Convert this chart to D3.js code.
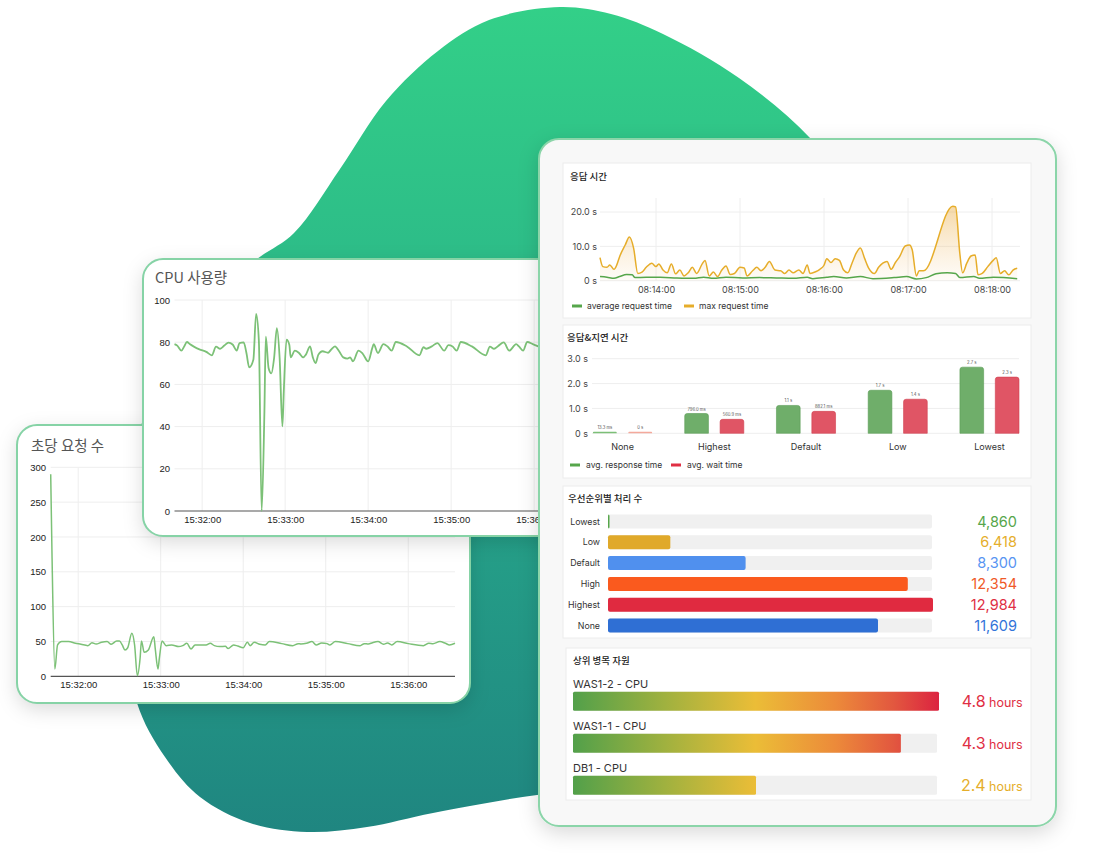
<!DOCTYPE html>
<html><head><meta charset="utf-8">
<script src="https://cdn.jsdelivr.net/npm/d3@7"></script>
<style>
html,body{margin:0;padding:0;background:#fff;}
svg{display:block;}
</style></head><body>
<svg id="c" width="1096" height="859"></svg>
<script>
// ---------------- DATA ----------------
// CPU 사용량 (seconds after 15:31:40, percent)
const cpuSeconds = [0,2,5,7,9,11,14,18,23,27,30,33,36,39,42,45,47,50,52,54,57,59,61,63,65,66,68,70,72,74,76,78,79,81,83,84,87,90,93,95,98,100,102,104,107,111,113,116,119,122,125,127,129,133,136,140,143,144,147,151,154,157,160,168,177,180,182,186,190,195,198,201,204,207,215,225,228,231,234,238,242,247,249,252,255,259,263];
const cpuValues  = [79.1,78.4,76.0,78.0,80.1,79.1,77.9,76.6,75.4,73.8,77.9,76.9,78.4,79.8,78.9,76.0,79.6,79.9,74.9,68.1,71.7,93.4,80.4,0,47.2,82.6,67.8,65.2,72.5,86.7,72.5,40.1,56.7,81.2,78.8,72.8,76.0,74.9,72.8,74.1,78.0,72.8,70.1,74.1,75.7,75.0,76.3,78.0,75.7,72.8,72.2,72.8,70.9,76.0,74.6,70.9,77.3,79.1,74.9,79.1,78.0,76.0,80.1,78.0,73.8,77.6,76.9,78.0,79.6,76.0,78.6,78.0,76.0,80.1,78.0,73.8,77.9,76.9,78.2,79.9,76.0,79.1,78.0,76.0,80.1,79.1,78.0];
const cpuTicks = [0,20,40,60,80,100];

// 초당 요청 수 (seconds after 15:31:40, requests/s)
const reqSeconds = [0,1,3,5,8,13,18,22,27,30,33,37,41,44,48,50,52,54,56,59,61,63,65,66,68,71,75,76,78,79,81,84,88,93,96,99,102,105,110,113,116,119,123,127,129,133,136,140,143,145,148,152,156,159,168,176,180,182,186,190,193,197,201,203,207,216,225,228,231,234,238,242,245,248,252,260,271,275,278,283,287,290,294];
const reqValues  = [290,169,10.5,45,49.8,49.8,47.4,46,44,48.3,46.4,48.8,49.8,46,50.7,50.7,45,37.8,41,61.7,45,1,25.8,50.7,34.4,37.8,56.9,40.2,10.5,25.8,50.7,44,45,42.6,44,47.4,39.2,45,45,45,47.4,44,42.6,43,40,45,43.5,41.1,48.8,44,48.8,46,45,49.8,46.9,44,46.9,46.4,47.4,49.8,45,47.8,46.9,45,49.8,46.9,44,46.9,46.4,48.3,49.8,46,47.8,45,49.8,46.9,44,47.4,46.9,49.8,47.4,45,47.4];
const reqTicks = [0,50,100,150,200,250,300];

// 응답 시간 (seconds after 08:13:20, seconds)
const maxSeconds = [0,2,5,7,10,12,14,18,21,24,27,30,33,37,40,42,45,48,51,54,57,60,63,66,69,73,75,78,81,84,87,90,93,96,100,103,105,109,112,115,118,121,125,129,132,135,138,142,145,148,150,154,157,160,162,165,168,171,174,177,180,183,186,189,192,196,199,202,205,208,211,214,218,221,223,226,228,231,252,254,257,259,262,265,268,270,273,277,281,283,286,289,292,295,298];
const maxValues  = [6.7,4.1,3.9,4.6,3.3,4.6,7.0,10.4,12.7,9.5,2.1,2.5,3.9,5.1,4.1,4.9,3.1,2.3,4.9,2.0,3.1,1.4,2.3,3.9,2.1,4.9,5.9,1.4,2.5,1.2,3.1,4.3,1.8,2.1,3.9,3.7,1.4,2.9,3.9,2.9,3.9,5.6,3.1,2.9,2.1,3.1,2.3,3.1,2.1,4.6,2.1,2.6,3.3,4.5,6.4,5.3,6.4,5.9,3.1,2.3,5.1,8.0,9.5,6.5,3.6,2.1,3.9,5.1,5.6,3.3,5.3,7.0,10.1,10.4,9.0,1.4,2.9,2.9,21.7,21.5,8.0,2.3,5.1,7.2,7.5,1.7,2.1,4.1,6.0,6.7,2.1,2.9,1.7,3.1,3.6];
const avgSeconds = [0,5,10,14,19,23,25,33,43,55,67,74,81,90,102,114,126,138,148,152,162,167,176,186,195,210,219,226,233,240,248,254,257,267,271,281,298];
const avgValues  = [1.2,1.0,0.7,1.2,1.8,1.7,0.9,1.0,1.0,0.8,0.7,1.0,0.7,1.0,0.8,0.9,0.8,0.7,1.0,0.6,1.0,1.2,0.8,1.2,0.6,0.9,1.2,0.5,0.9,2.0,2.3,2.1,0.9,1.2,0.7,1.0,0.6];
const respTicks = [0,10,20];
const respSeries = ["average request time","max request time"];

// 응답&지연 시간 (seconds)
const latencyCategories = ["None","Highest","Default","Low","Lowest"];
const latencySeries = ["avg. response time","avg. wait time"];
const avgResponseTime = [0.0133,0.796,1.12,1.73,2.66];
const avgWaitTime     = [0,0.5609,0.8821,1.37,2.26];
const latencyTicks = [0,1,2,3];

// 우선순위별 처리 수
const priorityLabels = ["Lowest","Low","Default","High","Highest","None"];
const priorityCounts = [4860,6418,8300,12354,12984,11609];
const priorityColors = ["#56a64b","#e0a92a","#5090ee","#fa5a1e","#e02a40","#2f6fd4"];
const priorityTextColors = ["#56a64b","#e5ae2b","#5794f2","#f05a28","#e02f44","#3274d9"];

// 상위 병목 자원 (hours)
const resourceLabels = ["WAS1-2 - CPU","WAS1-1 - CPU","DB1 - CPU"];
const resourceHours = [4.8,4.3,2.4];
const resourceTextColors = ["#e02f44","#e02f44","#e5ae2b"];

// ---------------- DRAWING ----------------
const svg = d3.select("#c");
const defs = svg.append("defs");
const LF = "'Liberation Sans',Arial,'Noto Sans CJK KR',sans-serif";
const IF = "Inter,'Noto Sans CJK KR',sans-serif";
const KF = "'Noto Sans CJK KR',sans-serif";

svg.append("rect").attr("width",1096).attr("height",859).attr("fill","#fff");

// gradients
function lin(id, attrs, stops){
  const g = defs.append("linearGradient").attr("id",id).attr("gradientUnits","userSpaceOnUse");
  Object.entries(attrs).forEach(([k,v])=>g.attr(k,v));
  stops.forEach(([o,c,op])=>g.append("stop").attr("offset",o).attr("stop-color",c).attr("stop-opacity",op==null?1:op));
}
lin("blobGrad",{x1:0,y1:0,x2:0,y2:840},[[0,"#33d088"],[0.3,"#2dbd88"],[0.62,"#25a088"],[1,"#1f8580"]]);
lin("maxFill",{x1:0,y1:205,x2:0,y2:281},[[0,"#e8a838",0.45],[1,"#f3c27a",0.05]]);
lin("hotGrad",{x1:573,y1:0,x2:938,y2:0},[[0,"#52a04a"],[0.25,"#9fb13f"],[0.5,"#ebbd37"],[0.72,"#ec8a3a"],[0.88,"#e2573f"],[1,"#dc2440"]]);

const sh = defs.append("filter").attr("id","shadow").attr("x","-20%").attr("y","-20%").attr("width","140%").attr("height","150%");
sh.append("feDropShadow").attr("dx",0).attr("dy",6).attr("stdDeviation",10).attr("flood-color","#000").attr("flood-opacity",0.15);

// blob (decorative background shape)
const blobOutline = [[560,7],[611,14],[663,34],[739,78],[811,139],[870,220],[905,350],[905,500],[870,640],[780,740],[640,785],[537,795],[433,813],[367,827],[307,832],[250,823],[200,797],[165,757],[137,703],[126,620],[130,520],[140,430],[165,370],[210,305],[253,262],[294,233],[340,169],[386,101],[438,51],[489,20]];
svg.append("path").attr("d", d3.line().curve(d3.curveCatmullRomClosed.alpha(0.5))(blobOutline)).attr("fill","url(#blobGrad)");

const parse = d3.timeParse("%H:%M:%S");
const fmtT = d3.timeFormat("%H:%M:%S");

// ---------- generic left-side time panel ----------
function leftPanel(p){
  const clipId = p.id+"Clip";
  defs.append("clipPath").attr("id",clipId).append("rect")
    .attr("x",p.box[0]).attr("y",p.box[1]).attr("width",p.box[2]).attr("height",p.box[3]).attr("rx",20);
  svg.append("rect").attr("x",p.box[0]).attr("y",p.box[1]).attr("width",p.box[2]).attr("height",p.box[3]).attr("rx",20)
    .attr("fill","#fff").attr("filter","url(#shadow)");
  const g = svg.append("g").attr("clip-path",`url(#${clipId})`);
  g.append("rect").attr("x",p.box[0]).attr("y",p.box[1]).attr("width",p.box[2]).attr("height",p.box[3]).attr("fill","#fff");
  const x = p.x, y = p.y;
  const x0 = x.range()[0];
  g.selectAll(null).data(p.yTicks.filter(d=>d>0)).join("line")
    .attr("x1",x0).attr("x2",p.gridRight).attr("y1",d=>y(d)).attr("y2",d=>y(d)).attr("stroke","#eeeeee");
  const xt = x.ticks(d3.timeMinute.every(1));
  g.selectAll(null).data(xt).join("line")
    .attr("x1",d=>x(d)).attr("x2",d=>x(d)).attr("y1",y(p.yTicks[p.yTicks.length-1])).attr("y2",y(0)).attr("stroke","#eeeeee");
  const ya = g.append("g").attr("transform",`translate(${p.labelX},0)`)
    .call(d3.axisLeft(y).tickValues(p.yTicks).tickSize(0).tickPadding(0));
  ya.select(".domain").remove();
  ya.selectAll("text").attr("font-family",LF).attr("font-size",9.5).attr("fill","#222");
  const xa = g.append("g").attr("transform",`translate(0,${y(0)})`)
    .call(d3.axisBottom(x).ticks(d3.timeMinute.every(1)).tickFormat(fmtT).tickSize(0).tickPadding(5));
  xa.select(".domain").attr("stroke","#555").attr("stroke-width",1.2).attr("d",`M${x0},0H${p.gridRight}`);
  xa.selectAll("text").attr("font-family",LF).attr("font-size",9.5).attr("fill","#222");
  const data = p.secs.map((s,i)=>({t:d3.timeSecond.offset(p.base,s), v:p.vals[i]}));
  g.append("path").datum(data)
    .attr("d", d3.line().x(d=>x(d.t)).y(d=>y(d.v)).curve(d3.curveMonotoneX))
    .attr("fill","none").attr("stroke","#7cc177").attr("stroke-width",p.lw).attr("stroke-linejoin","round");
  g.append("text").attr("x",p.title[1]).attr("y",p.title[2]).text(p.title[0])
    .attr("font-family",KF).attr("font-size",14.5).attr("fill","#555");
  svg.append("rect").attr("x",p.box[0]).attr("y",p.box[1]).attr("width",p.box[2]).attr("height",p.box[3]).attr("rx",20)
    .attr("fill","none").attr("stroke","#86d3a6").attr("stroke-width",2);
}

const reqBase = parse("15:31:40");
leftPanel({
  id:"req", box:[17,425,453,278],
  x: d3.scaleTime().domain([reqBase, d3.timeSecond.offset(reqBase,294)]).range([50.7,455]),
  y: d3.scaleLinear().domain([0,300]).range([676.3,467.3]),
  yTicks:reqTicks, labelX:46, gridRight:455, base:reqBase, secs:reqSeconds, vals:reqValues, lw:1.5,
  title:["초당 요청 수",31,451]
});

const cpuBase = parse("15:31:40");
leftPanel({
  id:"cpu", box:[143,259,430,277],
  x: d3.scaleTime().domain([cpuBase, d3.timeSecond.offset(cpuBase,270)]).range([174.5,548]),
  y: d3.scaleLinear().domain([0,100]).range([511,300]),
  yTicks:cpuTicks, labelX:170, gridRight:600, base:cpuBase, secs:cpuSeconds, vals:cpuValues, lw:1.8,
  title:["CPU 사용량",155,283]
});

// ---------- right dashboard panel ----------
svg.append("rect").attr("x",539).attr("y",139).attr("width",517).attr("height",687).attr("rx",20)
  .attr("fill","#f8f8f8").attr("stroke","#8bd5a9").attr("stroke-width",2).attr("filter","url(#shadow)");

const subPanels = [[563,163,468,155,"응답 시간",570,180],[563,325,468,153,"응답&지연 시간",567,341],[563,486,468,152,"우선순위별 처리 수",568,502],[566,648,465,152,"상위 병목 자원",573,664]];
subPanels.forEach(s=>{
  svg.append("rect").attr("x",s[0]).attr("y",s[1]).attr("width",s[2]).attr("height",s[3]).attr("fill","#fff").attr("stroke","#ececec");
  svg.append("text").attr("x",s[5]).attr("y",s[6]).text(s[4]).attr("font-family",KF).attr("font-size",9.5).attr("font-weight",500).attr("fill","#222");
});

// ---- 응답 시간 ----
(function(){
  const base = parse("08:13:20");
  const x = d3.scaleTime().domain([base, d3.timeSecond.offset(base,298)]).range([600,1017.2]);
  const y = d3.scaleLinear().domain([0,24]).range([280.7,198.3]);
  const g = svg.append("g");
  g.selectAll(null).data(respTicks).join("line").attr("x1",600).attr("x2",1020).attr("y1",d=>y(d)).attr("y2",d=>y(d)).attr("stroke","#eeeeee");
  g.selectAll(null).data(x.ticks(d3.timeMinute.every(1))).join("line").attr("x1",d=>x(d)).attr("x2",d=>x(d)).attr("y1",198).attr("y2",280.7).attr("stroke","#eeeeee");
  const ya = g.append("g").attr("transform","translate(597,0)").call(d3.axisLeft(y).tickValues(respTicks).tickSize(0).tickPadding(0).tickFormat(d=>d===0?"0 s":d.toFixed(1)+" s"));
  ya.select(".domain").remove();
  ya.selectAll("text").attr("font-family",IF).attr("font-size",9).attr("fill","#444");
  const xa = g.append("g").attr("transform",`translate(0,${y(0)})`).call(d3.axisBottom(x).ticks(d3.timeMinute.every(1)).tickFormat(fmtT).tickSize(0).tickPadding(6));
  xa.select(".domain").remove();
  xa.selectAll("text").attr("font-family",IF).attr("font-size",9).attr("fill","#444");
  const maxData = maxSeconds.map((s,i)=>({t:d3.timeSecond.offset(base,s),v:maxValues[i]}));
  const avgData = avgSeconds.map((s,i)=>({t:d3.timeSecond.offset(base,s),v:avgValues[i]}));
  g.append("path").datum(maxData).attr("d",d3.area().x(d=>x(d.t)).y0(y(0)).y1(d=>y(d.v)).curve(d3.curveMonotoneX)).attr("fill","url(#maxFill)");
  g.append("path").datum(maxData).attr("d",d3.line().x(d=>x(d.t)).y(d=>y(d.v)).curve(d3.curveMonotoneX)).attr("fill","none").attr("stroke","#e6ad2a").attr("stroke-width",1.5);
  g.append("path").datum(avgData).attr("d",d3.line().x(d=>x(d.t)).y(d=>y(d.v)).curve(d3.curveMonotoneX)).attr("fill","none").attr("stroke","#56a64b").attr("stroke-width",1.5);
  const lc = ["#56a64b","#e6ad2a"], lx = [572,684];
  respSeries.forEach((s,i)=>{
    g.append("line").attr("x1",lx[i]).attr("x2",lx[i]+10).attr("y1",306).attr("y2",306).attr("stroke",lc[i]).attr("stroke-width",3);
    g.append("text").attr("x",lx[i]+15).attr("y",309).text(s).attr("font-family",IF).attr("font-size",8.5).attr("fill","#333");
  });
})();

// ---- 응답&지연 시간 ----
(function(){
  const g = svg.append("g");
  const x0 = d3.scaleBand().domain(latencyCategories).range([593,1019]).paddingInner(0.356).paddingOuter(0);
  const x1 = d3.scaleBand().domain(latencySeries).range([0,x0.bandwidth()]).paddingInner(0.33);
  const y = d3.scaleLinear().domain([0,3]).range([433.3,358.7]);
  g.selectAll(null).data(latencyTicks).join("line").attr("x1",592).attr("x2",1019).attr("y1",d=>y(d)).attr("y2",d=>y(d)).attr("stroke","#eeeeee");
  const ya = g.append("g").attr("transform","translate(588,0)").call(d3.axisLeft(y).tickValues(latencyTicks).tickSize(0).tickPadding(0).tickFormat(d=>d===0?"0 s":d.toFixed(1)+" s"));
  ya.select(".domain").remove();
  ya.selectAll("text").attr("font-family",IF).attr("font-size",9).attr("fill","#444");
  const xa = g.append("g").attr("transform",`translate(0,${y(0)})`).call(d3.axisBottom(x0).tickSize(0).tickPadding(10));
  xa.select(".domain").remove();
  xa.selectAll("text").attr("font-family",IF).attr("font-size",9).attr("fill","#333");
  const series = [avgResponseTime, avgWaitTime];
  const fills = ["#6fae6a","#e05565"], strokes = ["#5a9c55","#d0404f"];
  const fmtV = v => v===0 ? "0 s" : v<1 ? (v*1000).toFixed(1)+" ms" : v.toFixed(1)+" s";
  latencySeries.forEach((s,si)=>{
    latencyCategories.forEach((c,ci)=>{
      const v = series[si][ci];
      const bx = x0(c)+x1(s), bw = x1.bandwidth();
      const top = Math.min(y(v), y(0)-1.5);
      const h = y(0)-top;
      const r = Math.min(2.5,h/2);
      g.append("path").attr("d",`M${bx},${y(0)}V${top+r}Q${bx},${top} ${bx+r},${top}H${bx+bw-r}Q${bx+bw},${top} ${bx+bw},${top+r}V${y(0)}Z`)
        .attr("fill", h<3 ? (si===0?"#7cbf77":"#f4a99c") : fills[si]).attr("stroke",h<3?"none":strokes[si]).attr("stroke-width",0.6);
      g.append("text").attr("x",bx+bw/2).attr("y",top-3).attr("text-anchor","middle").text(fmtV(v))
        .attr("font-family",IF).attr("font-size",4.2).attr("fill","#555");
    });
  });
  const lc = ["#56a64b","#e02f44"], lx = [570,671];
  latencySeries.forEach((s,i)=>{
    g.append("line").attr("x1",lx[i]).attr("x2",lx[i]+10).attr("y1",465).attr("y2",465).attr("stroke",lc[i]).attr("stroke-width",3);
    g.append("text").attr("x",lx[i]+16).attr("y",468).text(s).attr("font-family",IF).attr("font-size",8.5).attr("fill","#333");
  });
})();

// ---- 우선순위별 처리 수 ----
(function(){
  const g = svg.append("g");
  const y = d3.scaleBand().domain(priorityLabels).range([511,636]).paddingInner(0.33).paddingOuter(0.165);
  const x = d3.scaleLinear().domain(d3.extent(priorityCounts)).range([608,933]);
  priorityLabels.forEach((l,i)=>{
    const yy = y(l), h = y.bandwidth();
    g.append("rect").attr("x",608).attr("y",yy).attr("width",324).attr("height",h).attr("rx",2).attr("fill","#f0f0f0");
    g.append("rect").attr("x",608).attr("y",yy).attr("width",Math.max(1.5,x(priorityCounts[i])-608)).attr("height",h).attr("rx",2).attr("fill",priorityColors[i]);
    g.append("text").attr("x",600).attr("y",yy+h/2+3.2).attr("text-anchor","end").text(l).attr("font-family",IF).attr("font-size",8.8).attr("fill","#333");
    g.append("text").attr("x",1017).attr("y",yy+h/2+5.2).attr("text-anchor","end").text(d3.format(",")(priorityCounts[i]))
      .attr("font-family",IF).attr("font-size",14.5).attr("fill",priorityTextColors[i]);
  });
})();

// ---- 상위 병목 자원 ----
(function(){
  const g = svg.append("g");
  const y = d3.scaleBand().domain(resourceLabels).range([691.7,794.7]).paddingInner(0.5476).paddingOuter(0);
  const x = d3.scaleLinear().domain([0,d3.max(resourceHours)]).range([573,939]);
  resourceLabels.forEach((l,i)=>{
    const yy = y(l), h = y.bandwidth();
    g.append("rect").attr("x",573).attr("y",yy).attr("width",364).attr("height",h).attr("rx",1.5).attr("fill","#f0f0f0");
    g.append("rect").attr("x",573).attr("y",yy).attr("width",x(resourceHours[i])-573).attr("height",h).attr("rx",1.5).attr("fill","url(#hotGrad)");
    g.append("text").attr("x",573).attr("y",yy-3.5).text(l).attr("font-family",IF).attr("font-size",11).attr("fill","#333");
    const t = g.append("text").attr("x",1022.7).attr("y",yy+h/2+5.5).attr("text-anchor","end").attr("font-family",IF).attr("fill",resourceTextColors[i]);
    t.append("tspan").attr("font-size",16).text(resourceHours[i].toFixed(1));
    t.append("tspan").attr("font-size",12.5).text(" hours");
  });
})();
</script>
</body></html>
